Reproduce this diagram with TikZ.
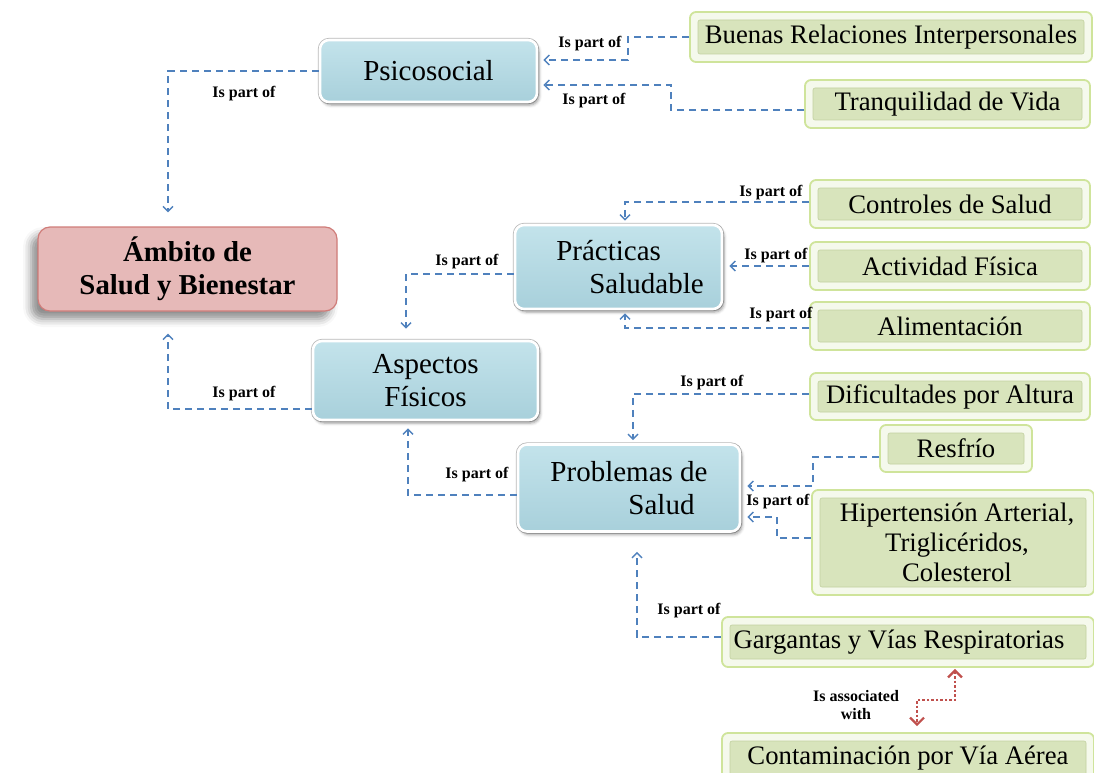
\documentclass[tikz,border=0pt]{standalone}
\usepackage{fontspec}
\setmainfont{Liberation Serif}
\usetikzlibrary{arrows.meta,shadows.blur}

\definecolor{linkblue}{HTML}{4F81BD}
\definecolor{conceptbluetop}{HTML}{C3E3EB}
\definecolor{conceptbluebot}{HTML}{A8D0DB}
\definecolor{rootfill}{HTML}{E6B9B8}
\definecolor{rootedge}{HTML}{C0504D}
\definecolor{leafedge}{HTML}{CFE49B}
\definecolor{leafpale}{HTML}{F5F9EC}
\definecolor{leafinner}{HTML}{D8E4BC}
\definecolor{leafline}{HTML}{C2D1A0}
\definecolor{assocred}{HTML}{C0504D}

\tikzset{
  root/.style={rounded corners=12pt, fill=rootfill, draw=rootedge!75, line width=1.2pt,
    blur shadow={shadow xshift=-7pt, shadow yshift=-8pt, shadow blur radius=8pt, shadow opacity=45},
    font=\bfseries\fontsize{28.8}{33}\selectfont, align=center, inner sep=0pt},
  concept/.style={rounded corners=9pt, top color=conceptbluetop, bottom color=conceptbluebot,
    draw=white, line width=2.6pt, preaction={draw=gray!55, line width=4.2pt},
    blur shadow={shadow xshift=2pt, shadow yshift=-3pt, shadow blur radius=3pt, shadow opacity=40},
    font=\fontsize{29}{33}\selectfont, align=left, inner sep=0pt},
  leaf/.style={rounded corners=6pt, draw=leafedge, line width=1.8pt, fill=leafpale,
    path picture={\filldraw[fill=leafinner, draw=leafline, line width=0.6pt, rounded corners=2pt]
      ([shift={(8pt,-8pt)}]path picture bounding box.north west) rectangle
      ([shift={(-8pt,8pt)}]path picture bounding box.south east);},
    font=\fontsize{26.7}{30}\selectfont, align=center, inner sep=0pt},
  lbl/.style={font=\bfseries\fontsize{16}{17}\selectfont, inner sep=1pt, align=center},
  conn/.style={draw=linkblue, line width=1.6pt, dash pattern=on 7pt off 5pt,
    -{Straight Barb[length=5pt,width=10pt,line width=1.4pt]}},
  assoc/.style={draw=assocred, line width=2.8pt, dash pattern=on 2.5pt off 2pt,
    {Straight Barb[length=7pt,width=14pt,line width=2.2pt]}-{Straight Barb[length=7pt,width=14pt,line width=2.2pt]}}
}

\begin{document}
\begin{tikzpicture}[x=1pt, y=-1pt]
  \useasboundingbox (0,0) rectangle (1094,773);

  % concept boxes
  \node[root, minimum width=299pt, minimum height=84pt] (ambito) at (187.5,269)
    {Ámbito de\\Salud y Bienestar};
  \node[concept, minimum width=217pt, minimum height=62pt] (psico) at (428.5,71) {Psicosocial};
  \node[concept, minimum width=207pt, minimum height=84pt] (practicas) at (618.5,267)
    {\hspace*{23pt}Prácticas\\\hspace*{56pt}Saludable};
  \node[concept, minimum width=225pt, minimum height=79pt, align=center] (aspectos) at (425.5,380.5)
    {Aspectos\\Físicos};
  \node[concept, minimum width=222pt, minimum height=87pt] (problemas) at (629,488)
    {Problemas de\\\hspace*{78pt}Salud};

  % leaf boxes
  \node[leaf, minimum width=402pt, minimum height=50pt] (buenas) at (891,37) {Buenas Relaciones Interpersonales};
  \node[leaf, minimum width=285pt, minimum height=48pt] (tranq) at (947.5,104) {Tranquilidad de Vida};
  \node[leaf, minimum width=280pt, minimum height=48pt] (controles) at (950,204) {Controles de Salud};
  \node[leaf, minimum width=280pt, minimum height=48pt] (actividad) at (950,266) {Actividad Física};
  \node[leaf, minimum width=280pt, minimum height=48pt] (alim) at (950,326) {Alimentación};
  \node[leaf, minimum width=280pt, minimum height=47pt] (dific) at (950,396.5) {Dificultades por Altura};
  \node[leaf, minimum width=152pt, minimum height=47pt] (resfrio) at (956,448.5) {Resfrío};
  \node[leaf, minimum width=282pt, minimum height=105pt] (hiper) at (953,542.5)
    {\hspace*{8pt}Hipertensión Arterial,\\\hspace*{8pt}Triglicéridos,\\\hspace*{8pt}Colesterol};
  \node[leaf, minimum width=372pt, minimum height=50pt] (garg) at (908,642)
    {Gargantas y Vías Respiratorias\hspace*{18pt}};
  \node[leaf, minimum width=372pt, minimum height=50pt] (contam) at (908,758) {Contaminación por Vía Aérea};

  % "is part of" links
  \draw[conn] (psico.west) -| ([xshift=-19.5pt,yshift=14pt]ambito.north);
  \draw[conn] (buenas.west) -- ++(-61,0) |- ([xshift=5pt,yshift=11pt]psico.east);
  \draw[conn] ([yshift=-6pt]tranq.west) -- ++(-133,0) |- ([xshift=5pt,yshift=-14pt]psico.east);
  \draw[conn] ([yshift=2pt]controles.west) -| ([xshift=6.5pt,yshift=3pt]practicas.north);
  \draw[conn] (actividad.west) -- ([xshift=6pt]practicas.east |- actividad.west);
  \draw[conn] ([yshift=-2pt]alim.west) -| ([xshift=6.5pt,yshift=-3pt]practicas.south);
  \draw[conn] ([yshift=-7pt]practicas.west) -| ([xshift=-19.5pt,yshift=11pt]aspectos.north);
  \draw[conn] ([yshift=-28.5pt]aspectos.west) -| ([xshift=-19.5pt,yshift=-22pt]ambito.south);
  \draw[conn] ([yshift=-7pt]problemas.west) -| ([xshift=-17.5pt,yshift=-7pt]aspectos.south);
  \draw[conn] ([yshift=2.5pt]dific.west) -| ([xshift=4pt,yshift=3pt]problemas.north);
  \draw[conn] ([yshift=-8.5pt]resfrio.west) -- ++(-66,0) |- ([xshift=6pt,yshift=2pt]problemas.east);
  \draw[conn] ([yshift=4.5pt]hiper.west) -- ++(-34,0) |- ([xshift=6pt,yshift=-29pt]problemas.east);
  \draw[conn] ([yshift=5pt]garg.west) -| ([xshift=8pt,yshift=-19pt]problemas.south);

  % association link
  \draw[assoc] ([xshift=47pt,yshift=-1pt]garg.south) -- ++(0,31) -| ([xshift=9pt,yshift=6pt]contam.north);

  % link labels
  \node[lbl] (l1) at (244,94) {Is part of};
  \node[lbl] (l2) at (590,44) {Is part of};
  \node[lbl] (l3) at (594,101) {Is part of};
  \node[lbl] (l4) at (771,193) {Is part of};
  \node[lbl] (l5) at (776,256) {Is part of};
  \node[lbl] (l6) at (781,315) {Is part of};
  \node[lbl] (l7) at (467,262) {Is part of};
  \node[lbl] (l8) at (244,394) {Is part of};
  \node[lbl] (l9) at (477,475) {Is part of};
  \node[lbl] (l10) at (712,383) {Is part of};
  \node[lbl] (l11) at (778,502) {Is part of};
  \node[lbl] (l12) at (689,611) {Is part of};
  \node[lbl, font=\bfseries\fontsize{16}{18}\selectfont] (l13) at (856,705) {Is associated\\with};
\end{tikzpicture}
\end{document}
